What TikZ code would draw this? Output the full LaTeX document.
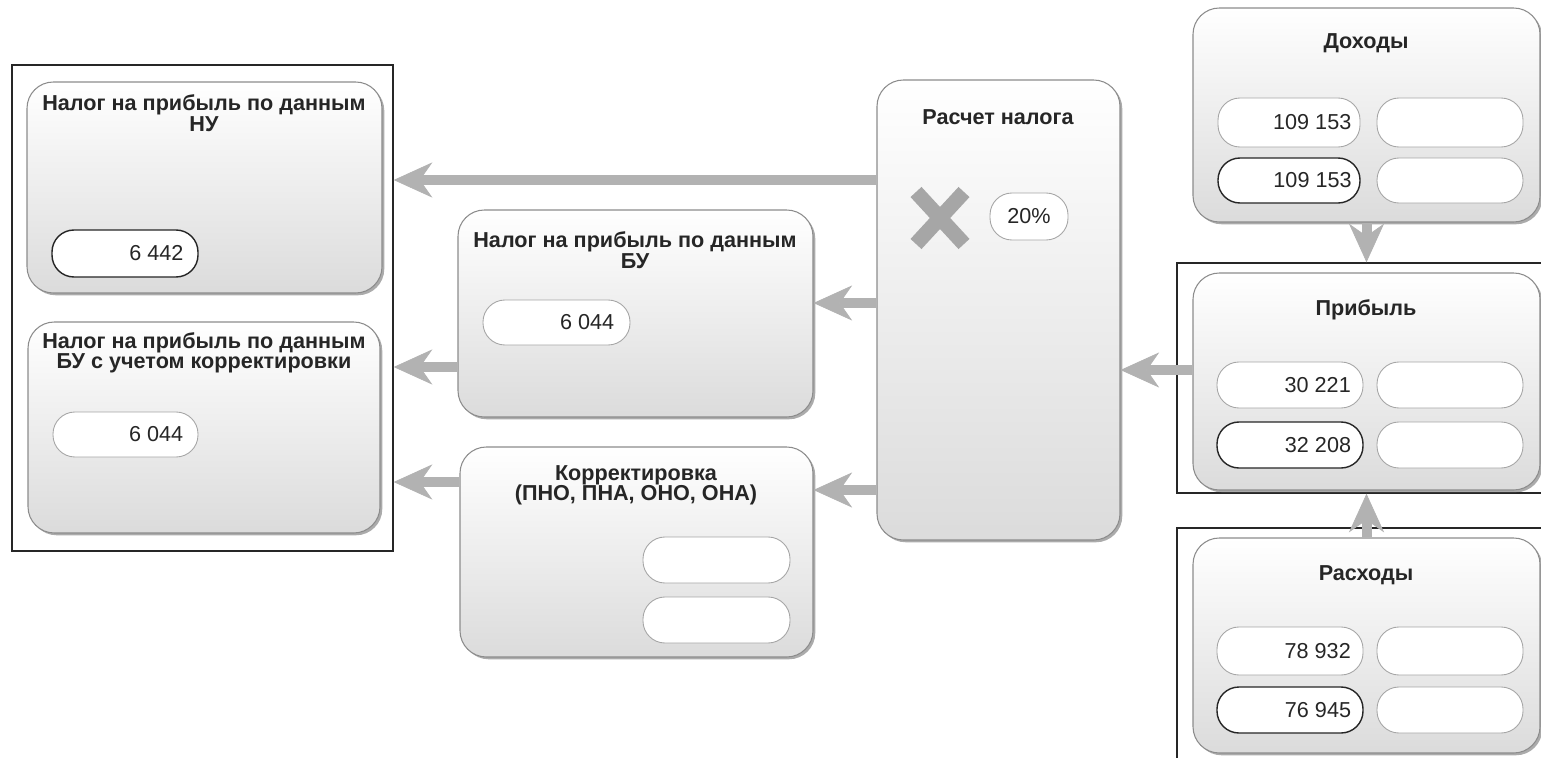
\documentclass[tikz,border=0pt]{standalone}
\usepackage{fontspec}
\setmainfont{Liberation Sans}
\usetikzlibrary{arrows.meta,shadows,fit,calc}
\begin{document}
\begin{tikzpicture}[x=0.02cm,y=-0.02cm,
  card/.style={draw=black!45, line width=0.6pt, rounded corners=15pt, top color=white, bottom color=black!14,
    drop shadow={shadow xshift=1.3pt,shadow yshift=-1.3pt,fill=black!55,opacity=0.6}, inner sep=0pt},
  pill/.style={draw=black!35, line width=0.5pt, rounded corners=12.5pt, fill=white, inner sep=0pt},
  pilldark/.style={pill, draw=black!85, line width=0.8pt},
  frame/.style={draw=black!85, line width=0.8pt, inner sep=0pt},
  ttl/.style={font=\bfseries\fontsize{12.3}{11.6}\selectfont, align=center, text=black!85},
  num/.style={font=\fontsize{12.3}{13}\selectfont, inner sep=0pt, text=black!85},
  arr/.style={draw=black!30, line width=5.7pt, -{Stealth[length=22pt,width=20pt,inset=7pt,line width=0.4pt,fill=black!30]}},
]
\useasboundingbox (0,0) rectangle (1541,757);
\clip (0,0) rectangle (1541,757);
\fill[white] (0,0) rectangle (1541,757);

% frames
\node[frame, fit={(12,65) (393,551)}] (frameL) {};
\node[frame, fit={(1177,263) (1560,493)}] (frameP) {};
\node[frame, fit={(1177,528) (1560,780)}] (frameR) {};

% left cards
\node[card, fit={(27,82) (382,293)}] (nu) {};
\node[ttl] at (204,113) (nut) {Налог на прибыль по данным\\НУ};
\node[pilldark, fit={(52,230) (198,277)}] (nup) {};
\node[num, anchor=east] at ([xshift=-8.5pt]nup.east) {6 442};

\node[card, fit={(28,322) (380,533)}] (buc) {};
\node[ttl] at (204,353) (buct) {Налог на прибыль по данным\\БУ с учетом корректировки};
\node[pill, fit={(53,412) (198,457)}] (bucp) {};
\node[num, anchor=east] at ([xshift=-8.5pt]bucp.east) {6 044};

% middle cards
\node[card, fit={(458,210) (813,417)}] (bu) {};
\node[ttl] at (635,250) (but) {Налог на прибыль по данным\\БУ};
\node[pill, fit={(483,300) (630,345)}] (bup) {};
\node[num, anchor=east] at ([xshift=-9pt]bup.east) {6 044};

\node[card, fit={(460,447) (813,657)}] (cor) {};
\node[ttl] at (636,485) (cort) {Корректировка\\(ПНО, ПНА, ОНО, ОНА)};
\node[pill, fit={(643,537) (790,583)}] (corp1) {};
\node[pill, fit={(643,597) (790,643)}] (corp2) {};

% tax calculation
\node[card, fit={(877,80) (1120,540)}] (ras) {};
\node[ttl] at (998,117) (rast) {Расчет налога};
\draw[black!35, line width=8.5pt] (916,192) -- (964,244) (916,244) -- (964,192);
\node[pill, fit={(990,193) (1068,240)}] (rate) {};
\node[num] at (rate.center) {20\%};

% right cards
\node[card, fit={(1193,8) (1540,222)}] (dox) {};
\node[ttl] at (1366,43) (doxt) {Доходы};
\node[pill, fit={(1218,98) (1360,147)}] (dox1) {};
\node[pill, fit={(1377,98) (1523,147)}] (dox2) {};
\node[pilldark, fit={(1218,158) (1360,203)}] (dox3) {};
\node[pill, fit={(1377,158) (1523,203)}] (dox4) {};
\node[num, anchor=east] at ([xshift=-5pt]dox1.east) {109 153};
\node[num, anchor=east] at ([xshift=-5pt]dox3.east) {109 153};

\node[card, fit={(1193,273) (1540,490)}] (pri) {};
\node[ttl] at (1366,310) (prit) {Прибыль};
\node[pill, fit={(1217,362) (1363,408)}] (pri1) {};
\node[pill, fit={(1377,362) (1523,408)}] (pri2) {};
\node[pilldark, fit={(1217,422) (1363,468)}] (pri3) {};
\node[pill, fit={(1377,422) (1523,468)}] (pri4) {};
\node[num, anchor=east] at ([xshift=-7pt]pri1.east) {30 221};
\node[num, anchor=east] at ([xshift=-7pt]pri3.east) {32 208};

\node[card, fit={(1193,538) (1540,753)}] (rsx) {};
\node[ttl] at (1366,575) (rsxt) {Расходы};
\node[pill, fit={(1217,627) (1363,675)}] (rsx1) {};
\node[pill, fit={(1377,627) (1523,675)}] (rsx2) {};
\node[pilldark, fit={(1217,687) (1363,733)}] (rsx3) {};
\node[pill, fit={(1377,687) (1523,733)}] (rsx4) {};
\node[num, anchor=east] at ([xshift=-7pt]rsx1.east) {78 932};
\node[num, anchor=east] at ([xshift=-7pt]rsx3.east) {76 945};

% arrow levels
\coordinate (yA) at (0,180);
\coordinate (yB) at (0,303);
\coordinate (yC) at (0,490);
\coordinate (yD) at (0,367);
\coordinate (yE) at (0,482);
\coordinate (yF) at (0,370);

\draw[arr] (ras.west |- yA) -- (frameL.east |- yA);
\draw[arr] (ras.west |- yB) -- (bu.east |- yB);
\draw[arr] (ras.west |- yC) -- (cor.east |- yC);
\draw[arr] (bu.west |- yD) -- (frameL.east |- yD);
\draw[arr] (cor.west |- yE) -- (frameL.east |- yE);
\draw[arr] (pri.west |- yF) -- (ras.east |- yF);
\draw[arr] (dox.south) -- (dox.south |- frameP.north);
\draw[arr] (rsx.north) -- (rsx.north |- frameP.south);
\end{tikzpicture}
\end{document}
